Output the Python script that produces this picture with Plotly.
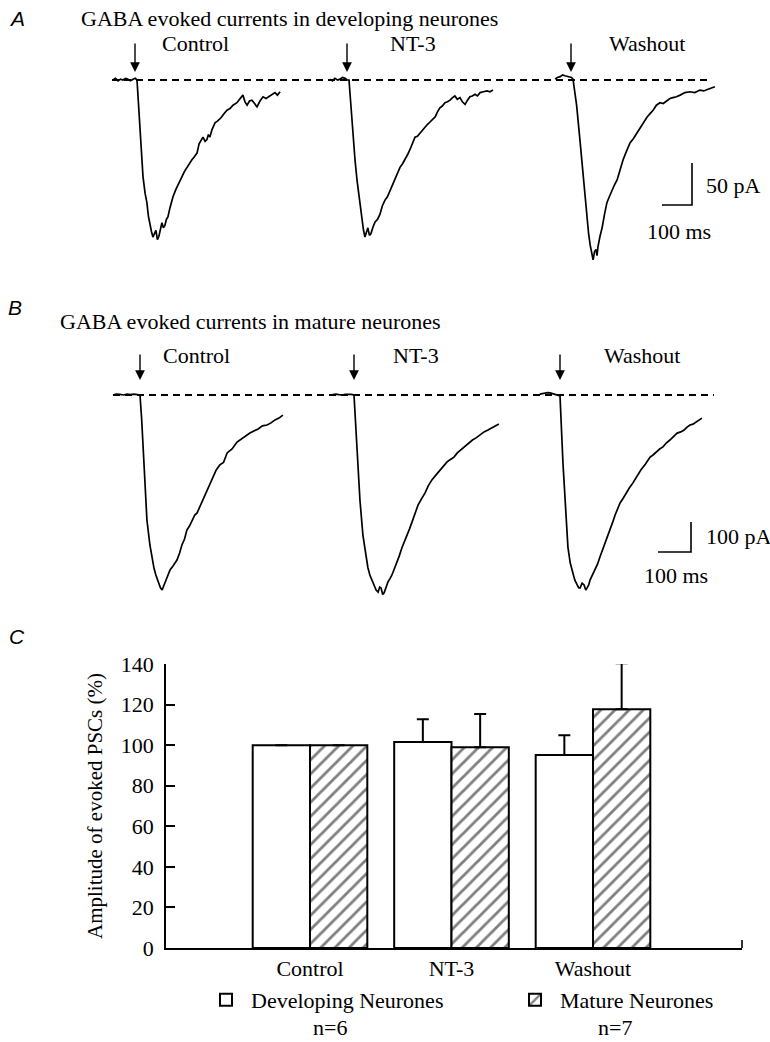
import plotly.graph_objects as go

# ---------------- DATA ----------------
# Panel A: GABA evoked currents in developing neurones (time in ms from stimulus, current in pA)
A_CTRL_T = [-80, -72, -63, -55, -47, -38, -30, -22, -13, -6, 0, 10, 20, 27, 33, 38, 43, 48, 53, 58, 63,
            68, 73, 78, 83, 88, 93, 98, 103, 110, 120, 130, 143, 150, 158, 167, 175, 183, 190, 200, 207,
            213, 220, 227, 233, 238, 243, 250, 260, 268, 280, 288, 300, 310, 320, 333, 343, 353, 360, 367, 375,
            383, 392, 400, 410, 420, 430, 443, 452, 460, 468, 477]
A_CTRL_I = [0, 2, -1, 1, 0, 2, 1, -1, 1, 2, 0, -60, -115, -135, -146, -162, -173, -180, -187, -183, -179,
            -190, -186, -178, -170, -176, -173, -166, -163, -152, -139, -130, -119, -115, -109, -104, -98, -95, -92, -87, -76,
            -72, -68, -73, -71, -65, -68, -59, -51, -49, -45, -41, -36, -34, -30, -27, -22, -18, -26, -30, -25,
            -24, -28, -32, -25, -20, -22, -19, -17, -15, -18, -14]
A_NT3_T = [-63, -55, -47, -38, -30, -22, -13, -6, 0, 10, 20, 27, 33, 38, 43, 48, 53, 58, 63,
           68, 73, 80, 87, 95, 103, 111, 120, 128, 137, 145, 153, 161, 170, 178, 187, 195, 203, 211, 220,
           228, 237, 245, 253, 261, 270, 278, 287, 295, 303, 311, 320, 328, 337, 345, 353, 361, 370, 378, 387,
           395, 403, 411, 420, 428, 437, 448, 460, 470, 480]
A_NT3_I = [1, -1, 2, 0, 1, 3, 2, 0, 0, -50, -95, -120, -137, -155, -167, -178, -187, -181, -176,
           -185, -183, -175, -169, -166, -160, -150, -143, -139, -131, -124, -119, -110, -104, -100, -95, -89, -83, -76, -68,
           -67, -63, -60, -56, -53, -50, -47, -44, -38, -33, -31, -27, -26, -24, -21, -19, -23, -21, -26, -29,
           -24, -20, -19, -17, -19, -15, -14, -13, -14, -12]
A_WASH_T = [-60, -52, -43, -35, -27, -18, -10, -5, 0, 12, 23, 35, 47, 52, 57, 62, 67, 72, 77,
            80, 83, 90, 97, 105, 113, 121, 130, 138, 147, 157, 167, 178, 190, 201, 213, 221, 230, 238, 247,
            257, 267, 278, 290, 301, 313, 323, 333, 345, 357, 373, 390, 406, 423, 436, 450, 462, 473]
A_WASH_I = [1, 3, 4, 6, 5, 4, 4, 3, 1, -30, -71, -120, -167, -183, -196, -206, -214, -204, -202,
            -209, -199, -186, -176, -160, -146, -139, -131, -125, -119, -106, -95, -85, -75, -70, -63, -58, -54, -48, -44,
            -40, -36, -30, -27, -28, -25, -22, -21, -20, -18, -15, -14, -15, -12, -13, -11, -9, -8]

# Panel B: GABA evoked currents in mature neurones
B_CTRL_T = [-82, -72, -61, -50, -39, -29, -18, -9, 0, 5, 9, 15, 21, 30, 36, 42, 48, 53, 58,
            62, 67, 73, 79, 85, 91, 100, 112, 120, 127, 135, 142, 150, 158, 166, 173, 182, 191, 198, 206,
            213, 221, 231, 242, 253, 264, 279, 294, 306, 318, 326, 333, 345, 358, 371, 385, 397, 409, 421, 433]
B_CTRL_I = [0, 3, 2, 0, 3, 1, 3, 2, 0, -80, -173, -317, -417, -500, -540, -575, -600, -617, -630,
            -643, -650, -633, -617, -603, -583, -570, -550, -527, -500, -480, -450, -437, -417, -400, -393, -370, -350, -333, -310,
            -297, -273, -250, -233, -225, -193, -180, -157, -147, -140, -133, -127, -120, -113, -103, -100, -93, -83, -77, -67]
B_NT3_T = [-73, -64, -55, -46, -36, -27, -18, -9, 0, 5, 9, 18, 27, 36, 42, 48, 55, 61, 67,
           73, 78, 82, 87, 91, 97, 103, 109, 115, 122, 130, 137, 145, 153, 161, 168, 176, 185, 194, 204,
           215, 225, 236, 248, 261, 271, 282, 292, 303, 313, 324, 336, 348, 359, 370, 382, 394, 406, 418, 428, 439]
B_NT3_I = [0, 2, 3, 1, 0, 2, 3, 2, 0, -90, -183, -350, -467, -537, -575, -600, -620, -637, -650,
           -657, -640, -643, -665, -660, -640, -623, -612, -600, -580, -560, -537, -510, -490, -467, -447, -423, -395, -367, -347,
           -327, -303, -283, -267, -250, -237, -223, -215, -207, -193, -183, -170, -160, -150, -143, -133, -123, -117, -110, -103, -97]
B_WASH_T = [-61, -53, -45, -38, -30, -22, -15, -8, 0, 9, 18, 24, 31, 39, 45, 52, 57, 61, 67,
            73, 78, 82, 87, 91, 98, 106, 114, 121, 129, 136, 144, 152, 160, 167, 175, 182, 191, 200, 210,
            221, 233, 245, 259, 273, 282, 291, 302, 312, 322, 333, 344, 355, 366, 376, 385, 394, 403, 412, 421, 430]
B_WASH_I = [3, 5, 7, 8, 7, 5, 3, 1, -3, -227, -417, -507, -560, -593, -617, -633, -643, -643, -627,
            -633, -650, -643, -633, -617, -600, -583, -563, -540, -517, -493, -470, -450, -423, -400, -380, -360, -345, -327, -310,
            -293, -270, -250, -230, -207, -200, -190, -180, -173, -160, -150, -140, -127, -123, -117, -107, -100, -97, -90, -83, -77]

SWEEP_LABELS = ["Control", "NT-3", "Washout"]
SCALE_A = (100, 50)    # ms, pA
SCALE_B = (100, 100)   # ms, pA

# Panel C: amplitude of evoked PSCs (% of control)
CATEGORIES = ["Control", "NT-3", "Washout"]
DEV_MEAN = [100, 101.5, 95.1]
DEV_ERR = [0, 11.3, 9.8]
MAT_MEAN = [100, 99.0, 117.7]
MAT_ERR = [0, 16.3, 22.7]
Y_TICKS = [0, 20, 40, 60, 80, 100, 120, 140]
GROUP_N = ["n=6", "n=7"]

# ---------------- LAYOUT CONSTANTS ----------------
W, H = 770, 1042
SERIF = "Liberation Serif, Times New Roman, serif"
SANS = "Liberation Sans, Arial, sans-serif"
FS = 22

A_PX_MS, A_PX_PA, A_BASE, A_TOP, A_BOT = 0.30, 0.84, 80, 0, 300
B_PX_MS, B_PX_PA, B_BASE, B_TOP, B_BOT = 0.33, 0.30, 395, 300, 620
A_ONSET_PX = [137, 349, 573]
B_ONSET_PX = [140, 354, 560]


def ydom(top_px, bot_px):
    return [1 - bot_px / H, 1 - top_px / H]


fig = go.Figure()

line_style = dict(color="black", width=1.7)

# ---- Panel A traces
for onset_px, t, i in zip(A_ONSET_PX, [A_CTRL_T, A_NT3_T, A_WASH_T], [A_CTRL_I, A_NT3_I, A_WASH_I]):
    off = onset_px / A_PX_MS
    fig.add_trace(go.Scatter(x=[off + v for v in t], y=i, mode="lines", line=line_style,
                             showlegend=False, hoverinfo="skip", xaxis="x", yaxis="y"))
fig.add_trace(go.Scatter(x=[112 / A_PX_MS, 712 / A_PX_MS], y=[0, 0], mode="lines",
                         line=dict(color="black", width=1.8, dash="7px,5px"),
                         showlegend=False, hoverinfo="skip", xaxis="x", yaxis="y"))
sx = 692 / A_PX_MS
sy = -(205 - A_BASE) / A_PX_PA
fig.add_trace(go.Scatter(x=[sx - SCALE_A[0], sx, sx], y=[sy, sy, sy + SCALE_A[1]], mode="lines",
                         line=dict(color="black", width=1.6), showlegend=False, hoverinfo="skip",
                         xaxis="x", yaxis="y"))

# ---- Panel B traces
for onset_px, t, i in zip(B_ONSET_PX, [B_CTRL_T, B_NT3_T, B_WASH_T], [B_CTRL_I, B_NT3_I, B_WASH_I]):
    off = onset_px / B_PX_MS
    fig.add_trace(go.Scatter(x=[off + v for v in t], y=i, mode="lines", line=line_style,
                             showlegend=False, hoverinfo="skip", xaxis="x2", yaxis="y2"))
fig.add_trace(go.Scatter(x=[113 / B_PX_MS, 714 / B_PX_MS], y=[0, 0], mode="lines",
                         line=dict(color="black", width=1.8, dash="7px,5px"),
                         showlegend=False, hoverinfo="skip", xaxis="x2", yaxis="y2"))
sx = 691 / B_PX_MS
sy = -(552 - B_BASE) / B_PX_PA
fig.add_trace(go.Scatter(x=[sx - SCALE_B[0], sx, sx], y=[sy, sy, sy + SCALE_B[1]], mode="lines",
                         line=dict(color="black", width=1.6), showlegend=False, hoverinfo="skip",
                         xaxis="x2", yaxis="y2"))

# ---- Panel C bars
fig.add_trace(go.Bar(
    x=CATEGORIES, y=DEV_MEAN, name="Developing Neurones", legend="legend",
    marker=dict(color="white", line=dict(color="black", width=2)),
    error_y=dict(type="data", array=DEV_ERR, arrayminus=[0] * 3, symmetric=False,
                 color="black", thickness=2, width=6),
    xaxis="x3", yaxis="y3"))
fig.add_trace(go.Bar(
    x=CATEGORIES, y=MAT_MEAN, name="Mature Neurones", legend="legend2",
    marker=dict(color="white", line=dict(color="black", width=2),
                pattern=dict(shape="/", fgcolor="black", bgcolor="white", size=10, solidity=0.28)),
    error_y=dict(type="data", array=MAT_ERR, arrayminus=[0] * 3, symmetric=False,
                 color="black", thickness=2, width=6),
    xaxis="x3", yaxis="y3"))

cat_px = [310, 452, 593]
step = (cat_px[2] - cat_px[0]) / 2
xr = [(166 - cat_px[0]) / step, 2 + (742 - cat_px[2]) / step]

hidden = dict(visible=False, fixedrange=True)
leg_common = dict(orientation="v", yanchor="middle", y=1 - 1000 / H, xanchor="left", itemwidth=40,
                  font=dict(family=SERIF, size=FS, color="black"), bgcolor="rgba(0,0,0,0)",
                  itemclick=False, itemdoubleclick=False)
fig.update_layout(
    width=W, height=H, margin=dict(l=0, r=0, t=0, b=0),
    paper_bgcolor="white", plot_bgcolor="rgba(0,0,0,0)",
    barmode="group", bargap=0.19, bargroupgap=0,
    xaxis=dict(domain=[0, 1], range=[0, W / A_PX_MS], anchor="y", **hidden),
    yaxis=dict(domain=ydom(A_TOP, A_BOT), range=[-(A_BOT - A_BASE) / A_PX_PA, (A_BASE - A_TOP) / A_PX_PA],
               anchor="x", **hidden),
    xaxis2=dict(domain=[0, 1], range=[0, W / B_PX_MS], anchor="y2", **hidden),
    yaxis2=dict(domain=ydom(B_TOP, B_BOT), range=[-(B_BOT - B_BASE) / B_PX_PA, (B_BASE - B_TOP) / B_PX_PA],
                anchor="x2", **hidden),
    xaxis3=dict(domain=[166 / W, 742 / W], range=xr, anchor="y3", type="category",
                categoryorder="array", categoryarray=CATEGORIES,
                showline=True, linecolor="black", linewidth=1.6, ticks="", showgrid=False,
                zeroline=False, tickfont=dict(family=SERIF, size=FS, color="black"),
                ticklabelstandoff=0, automargin=False, fixedrange=True),
    yaxis3=dict(domain=ydom(664, 948), range=[0, 140], anchor="x3", tickvals=Y_TICKS,
                showline=True, linecolor="black", linewidth=1.6, ticks="inside", ticklen=9,
                tickwidth=1.6, tickcolor="black", showgrid=False, zeroline=False,
                tickfont=dict(family=SERIF, size=FS, color="black"), ticklabelstandoff=6,
                automargin=False, fixedrange=True),
    legend=dict(x=201 / W, **leg_common),
    legend2=dict(x=510 / W, **leg_common),
    showlegend=True,
)

# end tick on the right of x axis C
fig.add_shape(type="line", xref="x3 domain", yref="y3", x0=1, x1=1, y0=0, y1=4,
              line=dict(color="black", width=1.6))

anns = []


def text(t, xpx, ypx, size=FS, family=SERIF, xanchor="left", italic=False, angle=0):
    s = f"<i>{t}</i>" if italic else t
    anns.append(dict(text=s, x=xpx / W, y=1 - ypx / H, xref="paper", yref="paper",
                     xanchor=xanchor, yanchor="middle", showarrow=False, textangle=angle,
                     font=dict(family=family, size=size, color="black")))


# Panel A texts
text("A", 7, 18, size=21, family=SANS, italic=True)
text("GABA evoked currents in developing neurones", 79, 18)
for lab, xp in zip(SWEEP_LABELS, [160, 388, 607]):
    text(lab, xp, 44)
text("50 pA", 704, 186)
text("100 ms", 679, 232, xanchor="center")

# Panel B texts
text("B", 6, 307, size=21, family=SANS, italic=True)
text("GABA evoked currents in mature neurones", 58, 322)
for lab, xp in zip(SWEEP_LABELS, [161, 391, 602]):
    text(lab, xp, 356)
text("100 pA", 704, 536)
text("100 ms", 676, 575, xanchor="center")

# Panel C texts
text("C", 7, 636, size=21, family=SANS, italic=True)
text("Amplitude of evoked PSCs (%)", 95, 806, size=21, xanchor="center", angle=-90)
text(GROUP_N[0], 311, 1027)
text(GROUP_N[1], 596, 1027)

# stimulus arrows
for onset_px in A_ONSET_PX:
    anns.append(dict(x=(onset_px - 2) / A_PX_MS, y=(A_BASE - 72) / A_PX_PA, xref="x", yref="y",
                     text="", showarrow=True, ax=0, ay=-30, axref="pixel", ayref="pixel",
                     arrowhead=2, arrowsize=1.4, arrowwidth=1.4, arrowcolor="black"))
for onset_px in B_ONSET_PX:
    anns.append(dict(x=onset_px / B_PX_MS, y=(B_BASE - 380) / B_PX_PA, xref="x2", yref="y2",
                     text="", showarrow=True, ax=0, ay=-27, axref="pixel", ayref="pixel",
                     arrowhead=2, arrowsize=1.4, arrowwidth=1.4, arrowcolor="black"))

fig.update_layout(annotations=anns)
fig.write_html("out.html", config={"displayModeBar": False},
               post_script="document.body.style.margin='0px';")
